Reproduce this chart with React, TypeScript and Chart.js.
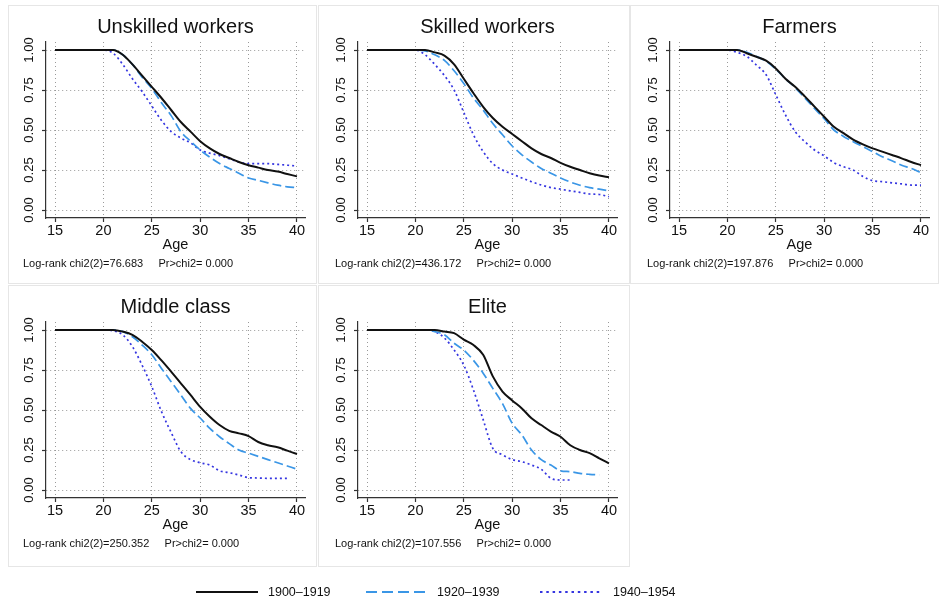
import React, { useEffect, useRef } from 'react';
import { Chart, registerables } from 'chart.js';

Chart.register(...registerables);

const FONT = "'Liberation Sans', Arial, Helvetica, sans-serif";

const AGES = [15, 20, 21, 22, 23, 24, 25, 26, 27, 28, 29, 30, 31, 32, 33, 34, 35, 36, 37, 38, 39, 40];
const X_TICKS = [15, 20, 25, 30, 35, 40];
const Y_TICKS = [0, 0.25, 0.5, 0.75, 1];
const COHORTS = ['1900–1919', '1920–1939', '1940–1954'];

const PANEL_TITLES = ['Unskilled workers', 'Skilled workers', 'Farmers', 'Middle class', 'Elite'];
const LOGRANK_CHI2 = ['76.683', '436.172', '197.876', '250.352', '107.556'];
const PR_CHI2 = ['0.000', '0.000', '0.000', '0.000', '0.000'];

// Unskilled workers
const UNSKILLED_1900 = [1, 1, 1, 0.97, 0.91, 0.84, 0.77, 0.70, 0.625, 0.55, 0.49, 0.43, 0.385, 0.35, 0.325, 0.30, 0.28, 0.265, 0.25, 0.24, 0.225, 0.21];
const UNSKILLED_1920 = [1, 1, 1, 0.97, 0.91, 0.83, 0.76, 0.67, 0.59, 0.49, 0.43, 0.375, 0.33, 0.29, 0.26, 0.23, 0.20, 0.185, 0.17, 0.155, 0.145, 0.14];
const UNSKILLED_1940 = [1, 1, 0.98, 0.91, 0.82, 0.74, 0.65, 0.56, 0.49, 0.45, 0.42, 0.375, 0.355, 0.34, 0.32, 0.30, 0.29, 0.29, 0.29, 0.285, 0.28, 0.275];

// Skilled workers
const SKILLED_1900 = [1, 1, 1, 0.985, 0.965, 0.91, 0.82, 0.73, 0.645, 0.575, 0.52, 0.475, 0.43, 0.385, 0.35, 0.325, 0.295, 0.27, 0.25, 0.23, 0.215, 0.205];
const SKILLED_1920 = [1, 1, 0.995, 0.97, 0.935, 0.87, 0.79, 0.70, 0.625, 0.54, 0.47, 0.40, 0.345, 0.30, 0.26, 0.23, 0.20, 0.175, 0.155, 0.14, 0.13, 0.12];
const SKILLED_1940 = [1, 1, 0.97, 0.91, 0.84, 0.75, 0.61, 0.47, 0.365, 0.29, 0.25, 0.225, 0.2, 0.177, 0.156, 0.14, 0.13, 0.12, 0.11, 0.10, 0.097, 0.083];

// Farmers
const FARMERS_1900 = [1, 1, 1, 0.98, 0.958, 0.933, 0.885, 0.82, 0.77, 0.71, 0.646, 0.583, 0.52, 0.48, 0.44, 0.41, 0.385, 0.365, 0.344, 0.323, 0.30, 0.28];
const FARMERS_1920 = [1, 1, 1, 0.985, 0.96, 0.93, 0.88, 0.82, 0.765, 0.70, 0.635, 0.57, 0.50, 0.46, 0.427, 0.396, 0.365, 0.333, 0.308, 0.28, 0.26, 0.233];
const FARMERS_1940 = [1, 1, 0.985, 0.96, 0.906, 0.845, 0.72, 0.594, 0.49, 0.427, 0.375, 0.338, 0.296, 0.27, 0.25, 0.21, 0.183, 0.177, 0.17, 0.163, 0.156, 0.156];

// Middle class
const MIDDLE_1900 = [1, 1, 1, 0.99, 0.97, 0.927, 0.875, 0.81, 0.74, 0.667, 0.594, 0.52, 0.458, 0.406, 0.37, 0.354, 0.337, 0.30, 0.28, 0.267, 0.246, 0.225];
const MIDDLE_1920 = [1, 1, 1, 0.99, 0.958, 0.906, 0.845, 0.76, 0.677, 0.594, 0.51, 0.45, 0.385, 0.333, 0.29, 0.25, 0.23, 0.21, 0.19, 0.17, 0.15, 0.13];
const MIDDLE_1940 = [1, 1, 0.995, 0.97, 0.896, 0.78, 0.646, 0.49, 0.36, 0.24, 0.19, 0.17, 0.156, 0.12, 0.108, 0.094, 0.077, 0.075, 0.073, 0.073, 0.073, null];

// Elite
const ELITE_1900 = [1, 1, 1, 1, 0.99, 0.98, 0.94, 0.906, 0.845, 0.71, 0.615, 0.56, 0.51, 0.448, 0.406, 0.365, 0.333, 0.28, 0.25, 0.23, 0.198, 0.167];
const ELITE_1920 = [1, 1, 1, 0.99, 0.97, 0.917, 0.875, 0.81, 0.73, 0.635, 0.54, 0.417, 0.344, 0.25, 0.19, 0.156, 0.12, 0.115, 0.104, 0.098, 0.094, null];
const ELITE_1940 = [1, 1, 1, 0.99, 0.95, 0.875, 0.78, 0.625, 0.44, 0.26, 0.22, 0.19, 0.177, 0.156, 0.13, 0.073, 0.0625, 0.0625, null, null, null, null];

const PANEL_SERIES = [
  [UNSKILLED_1900, UNSKILLED_1920, UNSKILLED_1940],
  [SKILLED_1900, SKILLED_1920, SKILLED_1940],
  [FARMERS_1900, FARMERS_1920, FARMERS_1940],
  [MIDDLE_1900, MIDDLE_1920, MIDDLE_1940],
  [ELITE_1900, ELITE_1920, ELITE_1940],
];

const STYLES = [
  { color: '#111111', width: 2, dash: [] as number[] },
  { color: '#3a96e6', width: 1.7, dash: [9, 4] },
  { color: '#3535e0', width: 1.7, dash: [2, 3] },
];

const CANVAS_W = 304;
const CANVAS_H = 276;
const COL_LEFT = [9, 321, 633];
const ROW_TOP = [6, 286];

function Panel({ index }: { index: number }) {
  const ref = useRef<HTMLCanvasElement | null>(null);
  useEffect(() => {
    const canvas = ref.current;
    if (!canvas) return;
    const series = PANEL_SERIES[index];
    const gridCommon = {
      color: '#9a9a9a',
      lineWidth: 1,
      tickColor: '#333333',
      tickLength: 4,
      tickWidth: 1.2,
      tickBorderDash: [],
    };
    const borderCommon = { color: '#333333', width: 1.2, dash: [1, 3] };
    const chart = new Chart(canvas, {
      type: 'line',
      data: {
        datasets: series.map((vals, i) => ({
          label: COHORTS[i],
          data: AGES.map((a, j) => ({ x: a, y: vals[j] })),
          borderColor: STYLES[i].color,
          borderWidth: STYLES[i].width,
          borderDash: STYLES[i].dash,
          pointRadius: 0,
          fill: false,
          spanGaps: false,
          cubicInterpolationMode: 'monotone' as const,
        })),
      },
      options: {
        responsive: false,
        animation: false,
        events: [],
        layout: { padding: { left: 0, right: 8, top: 0, bottom: 22 } },
        plugins: {
          legend: { display: false },
          tooltip: { enabled: false },
          title: {
            display: true,
            text: PANEL_TITLES[index],
            fullSize: false,
            color: '#111111',
            font: { family: FONT, size: 20, weight: 'normal' },
            padding: { top: 9, bottom: 3 },
          },
        },
        scales: {
          x: {
            type: 'linear',
            min: 14.07,
            max: 40.83,
            afterBuildTicks: (s: any) => {
              s.ticks = X_TICKS.map((v) => ({ value: v }));
            },
            afterFit: (s: any) => {
              s.height = 42;
            },
            ticks: {
              autoSkip: false,
              maxRotation: 0,
              minRotation: 0,
              padding: 0,
              color: '#111111',
              font: { family: FONT, size: 14.5 },
              callback: (v: any) => String(v),
            },
            grid: gridCommon,
            border: borderCommon,
            title: {
              display: true,
              text: 'Age',
              color: '#111111',
              font: { family: FONT, size: 14.5 },
              padding: { top: 0, bottom: 6.4 },
            },
          },
          y: {
            type: 'linear',
            min: -0.05,
            max: 1.05,
            afterBuildTicks: (s: any) => {
              s.ticks = Y_TICKS.map((v) => ({ value: v }));
            },
            afterFit: (s: any) => {
              s.width = 37;
            },
            ticks: {
              autoSkip: false,
              minRotation: 90,
              maxRotation: 90,
              crossAlign: 'center',
              padding: 0,
              color: '#111111',
              font: { family: FONT, size: 13 },
              callback: (v: any) => Number(v).toFixed(2),
            },
            grid: gridCommon,
            border: borderCommon,
          },
        },
      } as any,
    });
    return () => chart.destroy();
  }, [index]);

  const col = index % 3;
  const row = Math.floor(index / 3);
  const left = COL_LEFT[col];
  const top = ROW_TOP[row];
  return (
    <>
      <canvas
        ref={ref}
        width={CANVAS_W}
        height={CANVAS_H}
        style={{ position: 'absolute', left, top, width: CANVAS_W, height: CANVAS_H }}
      />
      <div
        style={{
          position: 'absolute',
          left: left + 14,
          top: top + 251,
          fontFamily: FONT,
          fontSize: 11,
          lineHeight: '13px',
          color: '#111111',
          whiteSpace: 'pre',
        }}
      >
        {`Log-rank chi2(2)=${LOGRANK_CHI2[index]}     Pr>chi2= ${PR_CHI2[index]}`}
      </div>
    </>
  );
}

const BOXES = [
  { left: 8, top: 5, width: 309, height: 279 },
  { left: 318, top: 5, width: 312, height: 279 },
  { left: 630, top: 5, width: 309, height: 279 },
  { left: 8, top: 285, width: 309, height: 282 },
  { left: 318, top: 285, width: 312, height: 282 },
];

const LEGEND_ITEMS = [
  { lineLeft: 196, textLeft: 268 },
  { lineLeft: 366, textLeft: 437 },
  { lineLeft: 540, textLeft: 613 },
];

export default function App() {
  return (
    <div style={{ position: 'absolute', left: 0, top: 0, width: 939, height: 602, background: '#ffffff', overflow: 'hidden' }}>
      {BOXES.map((b, i) => (
        <div
          key={'b' + i}
          style={{
            position: 'absolute',
            left: b.left,
            top: b.top,
            width: b.width,
            height: b.height,
            boxSizing: 'border-box',
            border: '1px solid #e6e6e6',
          }}
        />
      ))}
      {PANEL_TITLES.map((_, i) => (
        <Panel key={i} index={i} />
      ))}
      {COHORTS.map((c, i) => (
        <React.Fragment key={'l' + i}>
          <svg
            width={62}
            height={6}
            style={{ position: 'absolute', left: LEGEND_ITEMS[i].lineLeft, top: 589 }}
          >
            <line
              x1={0}
              y1={3}
              x2={62}
              y2={3}
              stroke={STYLES[i].color}
              strokeWidth={i === 0 ? 2 : 1.8}
              strokeDasharray={i === 0 ? undefined : i === 1 ? '11 5' : '2.5 3.8'}
            />
          </svg>
          <div
            style={{
              position: 'absolute',
              left: LEGEND_ITEMS[i].textLeft,
              top: 584,
              fontFamily: FONT,
              fontSize: 12.5,
              lineHeight: '16px',
              color: '#111111',
              whiteSpace: 'pre',
            }}
          >
            {c}
          </div>
        </React.Fragment>
      ))}
    </div>
  );
}
